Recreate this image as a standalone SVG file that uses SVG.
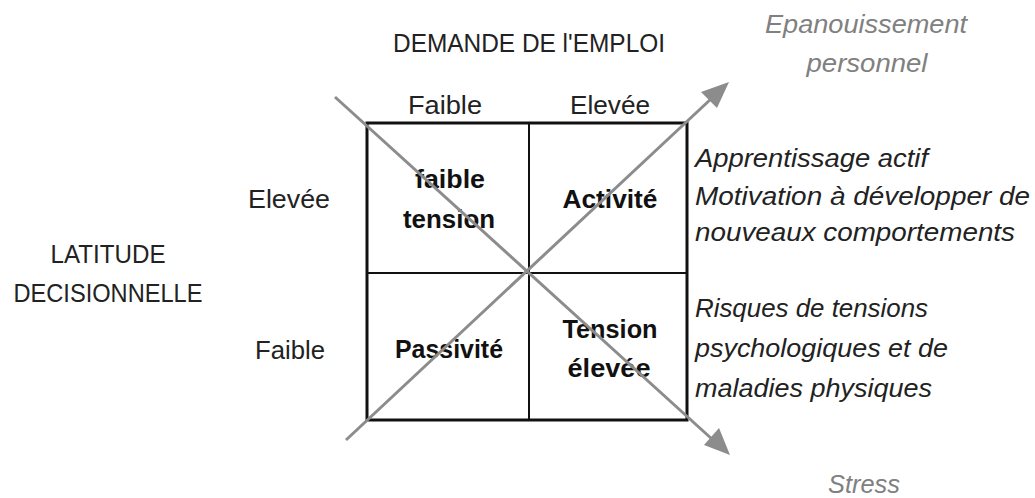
<svg xmlns="http://www.w3.org/2000/svg" width="1035" height="498" viewBox="0 0 1035 498">
<style>
text{font-family:"Liberation Sans",Arial,sans-serif;fill:#222}
.h{font-size:26px;text-anchor:middle}
.c{font-size:25px;font-weight:bold;text-anchor:middle;fill:#111}
.r{font-size:25px;font-style:italic}
.g{font-size:25px;font-style:italic;fill:#808080;text-anchor:middle}
.grid{fill:none;stroke:#111;stroke-width:3}
.in{stroke:#111;stroke-width:2}
.ax{stroke:#8c8c8c;stroke-width:3;fill:none}
.hd{fill:#8c8c8c}
</style>
<g id="labels">
<text class="h" x="529" y="52" textLength="272" lengthAdjust="spacingAndGlyphs">DEMANDE DE l'EMPLOI</text>
<text class="h" x="445" y="114" textLength="74" lengthAdjust="spacingAndGlyphs">Faible</text>
<text class="h" x="610" y="114" textLength="80" lengthAdjust="spacingAndGlyphs">Elevée</text>
<text class="h" x="289" y="208" textLength="82" lengthAdjust="spacingAndGlyphs">Elevée</text>
<text class="h" x="290" y="359" textLength="70" lengthAdjust="spacingAndGlyphs">Faible</text>
<text class="h" x="108" y="263" textLength="115" lengthAdjust="spacingAndGlyphs">LATITUDE</text>
<text class="h" x="108" y="302" textLength="189" lengthAdjust="spacingAndGlyphs">DECISIONNELLE</text>
</g>
<g id="grid">
<rect class="grid" x="367" y="123" width="320" height="297"/>
<line class="in" x1="529" y1="123" x2="529" y2="420"/>
<line class="in" x1="367" y1="273" x2="687" y2="273"/>
</g>
<g id="cell-faible-tension"><text class="c" x="450" y="188" textLength="70" lengthAdjust="spacingAndGlyphs">faible</text><text class="c" x="449" y="228" textLength="92" lengthAdjust="spacingAndGlyphs">tension</text></g>
<g id="cell-activite"><text class="c" x="610" y="208" textLength="95" lengthAdjust="spacingAndGlyphs">Activité</text></g>
<g id="cell-passivite"><text class="c" x="449" y="358" textLength="108" lengthAdjust="spacingAndGlyphs">Passivité</text></g>
<g id="cell-tension-elevee"><text class="c" x="610" y="338" textLength="95" lengthAdjust="spacingAndGlyphs">Tension</text><text class="c" x="609" y="377" textLength="83" lengthAdjust="spacingAndGlyphs">élevée</text></g>
<g id="connectors">
<line class="ax" x1="346" y1="440" x2="712" y2="98"/>
<path class="hd" d="M729,82 L701,92 L717,108 Z"/>
<line class="ax" x1="335" y1="97" x2="713" y2="440"/>
<path class="hd" d="M730,455 L719,428 L704,445 Z"/>
</g>
<g id="desc-top">
<text class="r" x="695" y="167" textLength="233" lengthAdjust="spacingAndGlyphs">Apprentissage actif</text>
<text class="r" x="695" y="205" textLength="335" lengthAdjust="spacingAndGlyphs">Motivation à développer de</text>
<text class="r" x="695" y="241" textLength="320" lengthAdjust="spacingAndGlyphs">nouveaux comportements</text>
</g>
<g id="desc-bottom">
<text class="r" x="695" y="317" textLength="233" lengthAdjust="spacingAndGlyphs">Risques de tensions</text>
<text class="r" x="695" y="357" textLength="253" lengthAdjust="spacingAndGlyphs">psychologiques et de</text>
<text class="r" x="695" y="397" textLength="237" lengthAdjust="spacingAndGlyphs">maladies physiques</text>
</g>
<g id="outcomes">
<text class="g" x="866" y="33" textLength="202" lengthAdjust="spacingAndGlyphs">Epanouissement</text>
<text class="g" x="867" y="72" textLength="121" lengthAdjust="spacingAndGlyphs">personnel</text>
<text class="g" x="864" y="493" textLength="72" lengthAdjust="spacingAndGlyphs">Stress</text>
</g>
</svg>
